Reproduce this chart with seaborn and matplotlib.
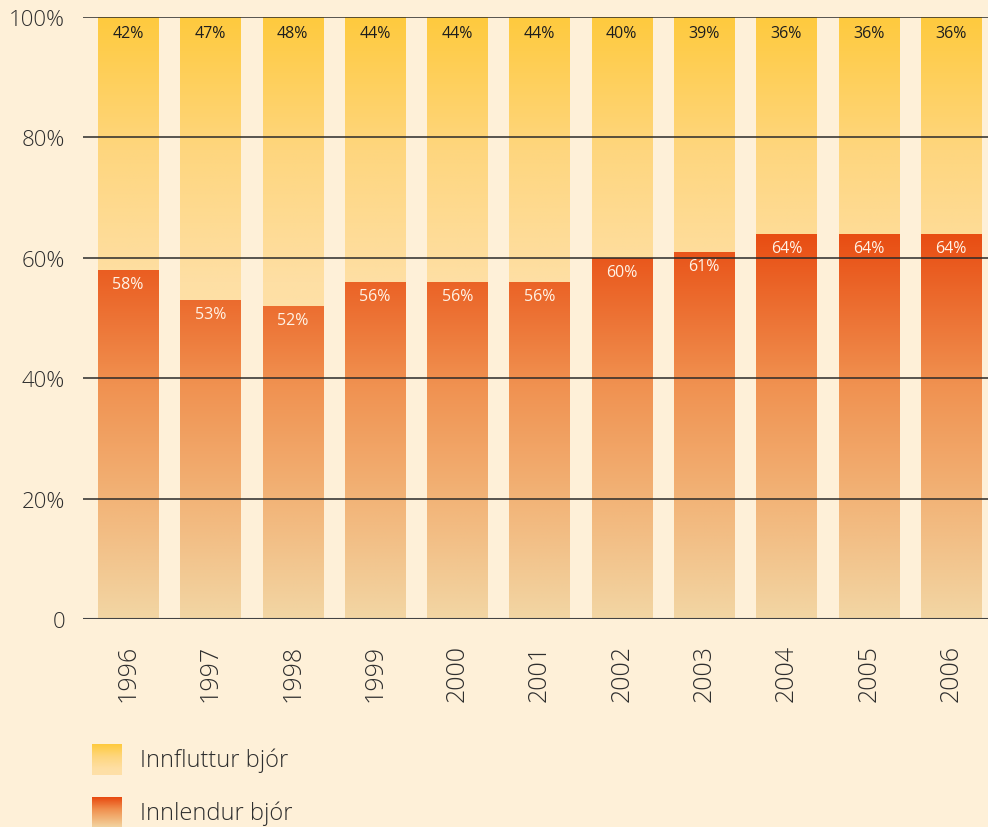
import numpy as np
import pandas as pd
import seaborn as sns
import matplotlib.pyplot as plt
from matplotlib.colors import LinearSegmentedColormap
from matplotlib.patches import Rectangle

# Data
years = ['1996', '1997', '1998', '1999', '2000', '2001', '2002', '2003', '2004', '2005', '2006']
innlendur = [58, 53, 52, 56, 56, 56, 60, 61, 64, 64, 64]
innflutt = [42, 47, 48, 44, 44, 44, 40, 39, 36, 36, 36]

df = pd.DataFrame({'year': years, 'innlendur': innlendur, 'innflutt': innflutt})
df['total'] = df['innlendur'] + df['innflutt']

bg = '#FEF0D8'
sns.set_theme(style='white')
plt.rcParams['font.family'] = ['Open Sans', 'DejaVu Sans']
plt.rcParams['font.weight'] = 'light'

# gradients (by absolute y value)
orange_cmap = LinearSegmentedColormap.from_list(
    'orange', [(0.0, '#F2D6A4'), (0.3, '#F2B478'), (0.6, '#F09150'), (1.0, '#E84A10')])
yellow_cmap = LinearSegmentedColormap.from_list(
    'yellow', [(0.0, '#FEE0A8'), (0.2, '#FEDFA4'), (0.6, '#FED67E'), (1.0, '#FFCA3E')])

fig = plt.figure(figsize=(9.88, 8.28), dpi=100, facecolor=bg)
ax = fig.add_axes([0.084, 0.2512, 0.916, 0.7271])
ax.set_facecolor(bg)

sns.barplot(data=df, x='year', y='total', color='#FFCA3E', width=0.73, ax=ax)
n_top = len(ax.patches)
sns.barplot(data=df, x='year', y='innlendur', color='#E84A10', width=0.73, ax=ax)

# paint gradients clipped to each bar
for i, p in enumerate(ax.patches):
    x0, w = p.get_x(), p.get_width()
    h = p.get_height()
    if i < n_top:
        lo, hi = 45, 100
        cmap = yellow_cmap
        ybot = innlendur[i]
    else:
        lo, hi = 0, 65
        cmap = orange_cmap
        ybot = 0
    grad = np.linspace(0, 1, 256).reshape(-1, 1)
    im = ax.imshow(grad, cmap=cmap, aspect='auto', origin='lower',
                   extent=(x0, x0 + w, lo, hi), zorder=2 + (i >= n_top))
    clip = Rectangle((x0, ybot), w, h - ybot, transform=ax.transData)
    im.set_clip_path(clip)
    p.set_visible(False)

ax.set_xlim(-0.547, len(years) - 1 + 0.45)
ax.set_ylim(0, 100)

# gridlines on top
for yv in [20, 40, 60, 80, 100]:
    ax.axhline(yv, color='#2a2a2a', lw=1.1, zorder=5)
ax.axhline(0, color='#444444', lw=1.5, zorder=5)

# value labels
for i in range(len(years)):
    ax.text(i, 97.4, f'{innflutt[i]}%', ha='center', va='center',
            fontsize=11.5, fontweight='normal', color='#1e1e1e', zorder=6)
    ax.text(i, innlendur[i] - 2.4, f'{innlendur[i]}%', ha='center', va='center',
            fontsize=11.5, fontweight='normal', color='#FFF3E6', zorder=6)

ax.set_yticks([0, 20, 40, 60, 80, 100])
ax.set_yticklabels(['0', '20%', '40%', '60%', '80%', '100%'], fontsize=16, color='#2e2e2e')
ax.set_xticks(range(len(years)))
ax.set_xticklabels(years, rotation=90, fontsize=18, color='#2e2e2e')
ax.tick_params(axis='x', length=0, pad=18)
ax.tick_params(axis='y', length=0, pad=13)
ax.set_xlabel('')
ax.set_ylabel('')
for s in ax.spines.values():
    s.set_visible(False)

# legend with gradient swatches
def swatch(cmap, y_bottom_px, label):
    lax = fig.add_axes([92 / 988, 1 - (y_bottom_px) / 828, 30 / 988, 31 / 828])
    lax.imshow(np.linspace(0, 1, 64).reshape(-1, 1), cmap=cmap, aspect='auto', origin='lower')
    lax.axis('off')
    fig.text(140 / 988, 1 - (y_bottom_px - 15) / 828, label, fontsize=17,
             color='#2e2e2e', va='center', ha='left')

swatch(yellow_cmap, 776, 'Innfluttur bjór')
swatch(orange_cmap, 829, 'Innlendur bjór')

fig.savefig('out.png', dpi=100, facecolor=bg)
